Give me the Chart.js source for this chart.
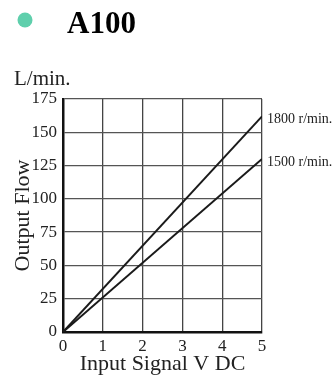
<!DOCTYPE html>
<html>
<head>
<meta charset="utf-8">
<script src="https://cdn.jsdelivr.net/npm/chart.js@4"></script>
<style>
  html, body { margin: 0; padding: 0; background: #fff; }
  canvas { display: block; }
</style>
</head>
<body>
<canvas id="flowChart" width="336" height="378"></canvas>
<script>
// values
const inputVolts = [0, 5];
const flow1800 = [0, 162];
const flow1500 = [0, 130];
const seriesNames = ['1800 r/min.', '1500 r/min.'];
const xTicks = [0, 1, 2, 3, 4, 5];
const yTicks = [0, 25, 50, 75, 100, 125, 150, 175];

const serif = 'Liberation Serif';
const ink = '#222';

function pts(ys) {
    return inputVolts.map((x, i) => ({ x: x, y: ys[i] }));
}

// title, bullet, unit and line end labels
const extras = {
    id: 'extras',
    afterDraw(chart) {
        const ctx = chart.ctx;
        const area = chart.chartArea;
        const yScale = chart.scales.y;
        ctx.save();
        ctx.fillStyle = '#5fcfac';
        ctx.beginPath();
        ctx.arc(25, 20, 7.5, 0, Math.PI * 2);
        ctx.fill();

        ctx.fillStyle = '#000';
        ctx.font = 'bold 31px ' + serif;
        ctx.textBaseline = 'alphabetic';
        ctx.textAlign = 'left';
        ctx.fillText('A100', 67, 33);

        ctx.fillStyle = ink;
        ctx.font = '21px ' + serif;
        ctx.fillText('L/min.', 14, 85);

        ctx.font = '14px ' + serif;
        ctx.textBaseline = 'middle';
        chart.data.datasets.forEach((ds, i) => {
            const last = ds.data[ds.data.length - 1];
            ctx.fillText(seriesNames[i], area.right + 5, yScale.getPixelForValue(last.y) + 3);
        });
        ctx.restore();
    }
};

new Chart(document.getElementById('flowChart').getContext('2d'), {
    type: 'line',
    data: {
        datasets: [
            { label: seriesNames[0], data: pts(flow1800), borderColor: '#1a1a1a', borderWidth: 2, pointRadius: 0 },
            { label: seriesNames[1], data: pts(flow1500), borderColor: '#1a1a1a', borderWidth: 2, pointRadius: 0 }
        ]
    },
    options: {
        responsive: false,
        animation: false,
        layout: { padding: { top: 99, right: 74, left: 0, bottom: 0 } },
        plugins: { legend: { display: false }, tooltip: { enabled: false } },
        scales: {
            x: {
                type: 'linear',
                min: xTicks[0], max: xTicks[xTicks.length - 1],
                afterBuildTicks: s => { s.ticks = xTicks.map(v => ({ value: v })); },
                afterFit: s => { s.height = 46; },
                ticks: { font: { family: serif, size: 17 }, color: ink, padding: 4, maxRotation: 0 },
                grid: { color: '#444', lineWidth: 1.3, drawTicks: false },
                border: { color: '#111', width: 2.5 },
                title: { display: true, text: 'Input Signal V DC', font: { family: serif, size: 22 }, color: ink, padding: { top: 0, bottom: 1 } }
            },
            y: {
                min: yTicks[0], max: yTicks[yTicks.length - 1],
                afterBuildTicks: s => { s.ticks = yTicks.map(v => ({ value: v })); },
                afterFit: s => { s.width = 63; },
                ticks: { font: { family: serif, size: 17 }, color: ink, padding: 6 },
                grid: { color: '#555', lineWidth: 1.3, drawTicks: false },
                border: { color: '#111', width: 2.5 },
                title: { display: true, text: 'Output Flow', font: { family: serif, size: 22 }, color: ink, padding: { top: 10, bottom: 0 } }
            }
        }
    },
    plugins: [extras]
});
</script>
</body>
</html>
